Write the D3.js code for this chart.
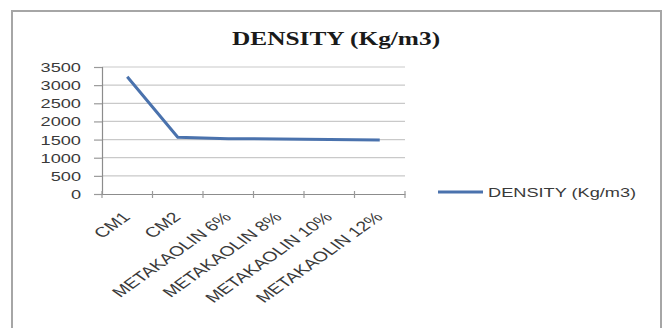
<!DOCTYPE html>
<html>
<head>
<meta charset="utf-8">
<script src="https://cdn.jsdelivr.net/npm/d3@7/dist/d3.min.js"></script>
<style>
  html, body { margin: 0; padding: 0; background: #ffffff; }
  svg { display: block; }
</style>
</head>
<body>
<svg id="chart" width="668" height="328"></svg>
<script>
// Density of the mixes, Kg/m3
const categories = ["CM1", "CM2", "METAKAOLIN 6%", "METAKAOLIN 8%", "METAKAOLIN 10%", "METAKAOLIN 12%"];
const densityValues = [3230, 1565, 1525, 1515, 1500, 1490];
const yTickValues = [0, 500, 1000, 1500, 2000, 2500, 3000, 3500];
const seriesName = "DENSITY (Kg/m3)";
const chartTitle = "DENSITY (Kg/m3)";

const svg = d3.select("#chart");
const SX = 1.4; // horizontal stretch of the lettering
const sansFont = "'Liberation Sans', Arial, sans-serif";

// outer chart frame
svg.append("rect")
  .attr("x", 12).attr("y", 11)
  .attr("width", 649).attr("height", 330)
  .attr("fill", "#ffffff")
  .attr("stroke", "#a6a6a6")
  .attr("stroke-width", 2);

const plot = { left: 102, right: 405, top: 67, bottom: 194 };

const x = d3.scaleBand()
  .domain(categories)
  .range([plot.left, plot.right])
  .paddingInner(0).paddingOuter(0);

const y = d3.scaleLinear()
  .domain([0, 3500])
  .range([plot.bottom, plot.top]);

// horizontal gridlines
svg.append("g")
  .selectAll("line")
  .data(yTickValues.filter(v => v > 0))
  .join("line")
  .attr("x1", plot.left).attr("x2", plot.right)
  .attr("y1", d => y(d)).attr("y2", d => y(d))
  .attr("stroke", "#c9c9c9")
  .attr("stroke-width", 1.2);

// y axis
const yAxis = svg.append("g")
  .attr("transform", `translate(${plot.left},0)`)
  .call(d3.axisLeft(y).tickValues(yTickValues).tickSize(8).tickPadding(0).tickFormat(d3.format("d")));
yAxis.select(".domain").attr("stroke", "#8c8c8c").attr("stroke-width", 1.2);
yAxis.selectAll(".tick line").attr("stroke", "#9a9a9a").attr("stroke-width", 1.2);
yAxis.selectAll(".tick text")
  .attr("x", null).attr("dy", null)
  .attr("transform", `translate(-21,4.5) scale(${SX},1)`)
  .attr("text-anchor", "end")
  .attr("fill", "#3a3a3a")
  .style("font-family", sansFont)
  .style("font-size", "13px");

// x axis
const xAxis = svg.append("g")
  .attr("transform", `translate(0,${plot.bottom})`)
  .call(d3.axisBottom(x).tickSize(0).tickSizeOuter(0));
xAxis.select(".domain").attr("stroke", "#8c8c8c").attr("stroke-width", 1.2);
xAxis.selectAll(".tick line").remove();

// tick marks on category boundaries
svg.append("g")
  .selectAll("line")
  .data(categories.map(c => x(c) + x.bandwidth()).concat([plot.left]))
  .join("line")
  .attr("x1", d => d).attr("x2", d => d)
  .attr("y1", plot.bottom - 3).attr("y2", plot.bottom + 4)
  .attr("stroke", "#9a9a9a")
  .attr("stroke-width", 1.2);

xAxis.selectAll(".tick text")
  .attr("y", null).attr("dy", null)
  .attr("transform", `translate(4,24) scale(${SX},1) rotate(-45)`)
  .attr("text-anchor", "end")
  .attr("fill", "#3a3a3a")
  .style("font-family", sansFont)
  .style("font-size", "14px");

// density line
const line = d3.line()
  .x((d, i) => x(categories[i]) + x.bandwidth() / 2)
  .y(d => y(d));

svg.append("path")
  .datum(densityValues)
  .attr("d", line)
  .attr("fill", "none")
  .attr("stroke", "#4a72ad")
  .attr("stroke-width", 3)
  .attr("stroke-linejoin", "round");

// title
svg.append("text")
  .attr("transform", "translate(336,45) scale(1.3,1)")
  .attr("text-anchor", "middle")
  .attr("fill", "#1a1a1a")
  .style("font-family", "'Liberation Serif', 'Times New Roman', serif")
  .style("font-weight", "bold")
  .style("font-size", "19.5px")
  .text(chartTitle);

// legend
const legend = svg.append("g").attr("transform", "translate(438,192)");
legend.append("line")
  .attr("x1", 0).attr("x2", 45)
  .attr("y1", 0).attr("y2", 0)
  .attr("stroke", "#4a72ad")
  .attr("stroke-width", 3);
legend.append("text")
  .attr("transform", `translate(50,4.5) scale(${SX},1)`)
  .attr("fill", "#3a3a3a")
  .style("font-family", sansFont)
  .style("font-size", "13px")
  .text(seriesName);
</script>
</body>
</html>
